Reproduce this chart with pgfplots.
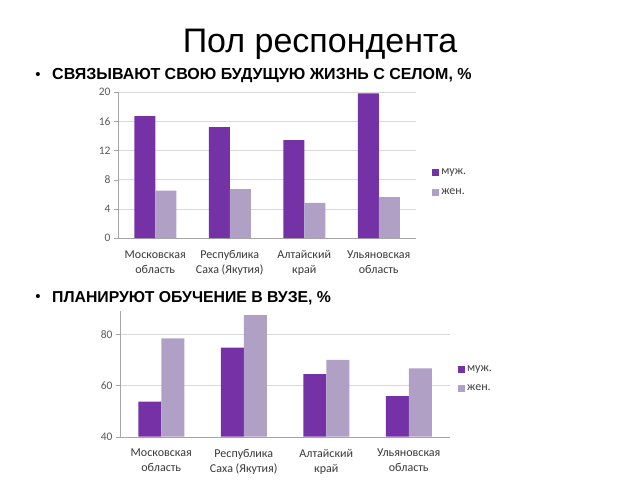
\documentclass[border=0pt]{standalone}
\usepackage{pgfplots}
\pgfplotsset{compat=1.18}
\usepackage{fontspec}
\setmainfont{Carlito}
\newfontfamily\arialfont{Liberation Sans}
\definecolor{maleC}{RGB}{116,50,166}
\definecolor{femC}{RGB}{176,160,198}
\definecolor{gridC}{RGB}{217,217,217}
\definecolor{axC}{RGB}{165,165,165}
\definecolor{tickC}{RGB}{89,89,89}
\pgfplotsset{
  legend image code/.code={\fill[#1] (0pt,-3.5pt) rectangle (7pt,3.5pt);},
  barchart/.style={
    scale only axis, xmin=-0.5, xmax=3.5,
    axis lines*=left, axis line style={axC},
    ymajorgrids, grid style={gridC},
    xtick={0,1,2,3},
    xticklabels={{Московская\\область},{Республика\\Саха (Якутия)},{Алтайский\\край},{Ульяновская\\область}},
    xticklabel style={align=center, font=\fontsize{12}{15}\selectfont, text=black!78, yshift=-5pt},
    x tick style={draw=none},
    minor xtick={-0.5,0.5,1.5,2.5,3.5}, minor x tick style={axC},
    minor tick length=4pt, major tick length=4pt,
    tick align=outside, y tick style={axC},
    yticklabel style={font=\fontsize{11.5}{13}\selectfont, text=tickC},
    /pgf/number format/assume math mode=true,
    legend style={draw=none, fill=none, font=\fontsize{12}{13}\selectfont, text=black!75, row sep=8pt, anchor=west},
    legend cell align=left,
  },
  malebar/.style={ybar, draw=none, fill=maleC},
  fembar/.style={ybar, draw=none, fill=femC},
}
\begin{document}
\begin{tikzpicture}
\path[use as bounding box] (0pt,0pt) rectangle (640pt,-480pt);
\node[font=\arialfont\fontsize{34}{40}\selectfont] at (320pt,-44pt) {Пол респондента};
\node[font=\arialfont\fontsize{15}{16}\selectfont] at (38pt,-76pt) {•};
\node[font=\arialfont\bfseries\fontsize{16}{16}\selectfont, anchor=west, inner sep=0pt] at (52pt,-76pt) {СВЯЗЫВАЮТ СВОЮ БУДУЩУЮ ЖИЗНЬ С СЕЛОМ, \%};
\node[font=\arialfont\fontsize{15}{16}\selectfont] at (38pt,-298pt) {•};
\node[font=\arialfont\bfseries\fontsize{15.8}{16}\selectfont, anchor=west, inner sep=0pt] at (52pt,-298pt) {ПЛАНИРУЮТ ОБУЧЕНИЕ В ВУЗЕ, \%};

\begin{axis}[barchart,
  at={(118pt,-238pt)}, anchor=south west,
  width=298pt, height=146pt,
  ymin=0, ymax=20, ytick={0,4,8,12,16,20},
  legend style={at={(1.044,0.38)}},
]
\addplot[malebar, bar width=21pt, bar shift=-10.5pt] coordinates {(0,16.7) (1,15.2) (2,13.4) (3,19.8)};
\addlegendentry{муж.}
\addplot[fembar, bar width=21pt, bar shift=10.5pt] coordinates {(0,6.5) (1,6.7) (2,4.8) (3,5.6)};
\addlegendentry{жен.}
\end{axis}

\begin{axis}[barchart,
  at={(120pt,-436.7pt)}, anchor=south west,
  width=330pt, height=125.4pt,
  ymin=40, ymax=89, ytick={40,60,80},
  legend style={at={(1.015,0.46)}},
]
\addplot[malebar, bar width=23pt, bar shift=-11.5pt] coordinates {(0,53.7) (1,74.8) (2,64.5) (3,55.9)};
\addlegendentry{муж.}
\addplot[fembar, bar width=23pt, bar shift=11.5pt] coordinates {(0,78.4) (1,87.5) (2,70.0) (3,66.7)};
\addlegendentry{жен.}
\end{axis}
\end{tikzpicture}
\end{document}
